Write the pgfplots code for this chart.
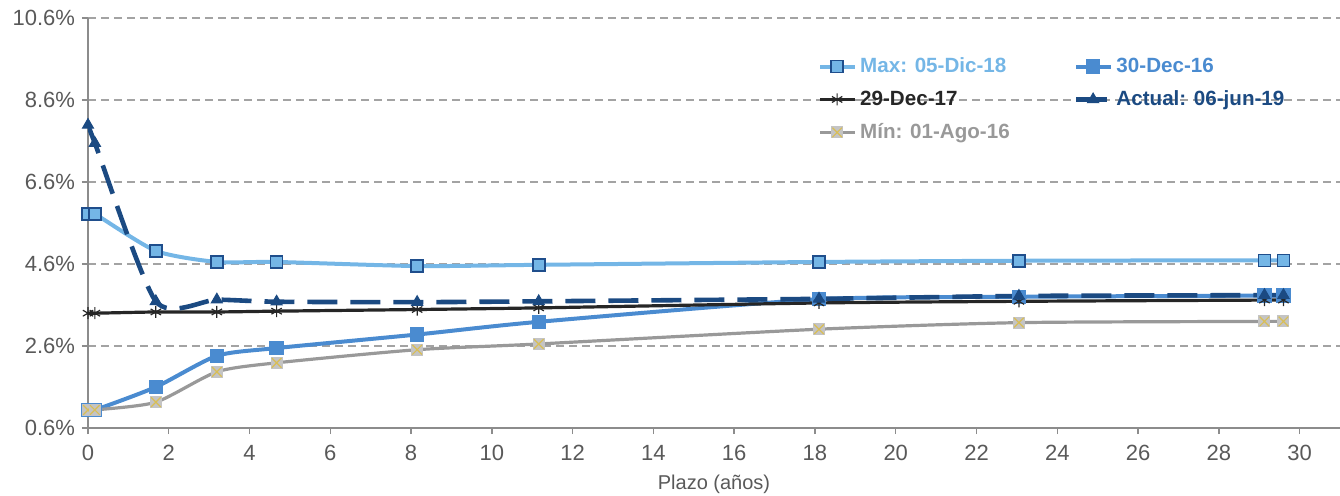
\documentclass[border=0pt]{standalone}
\usepackage{pgfplots}
\pgfplotsset{compat=1.18}
\usepackage{fontspec}
\setmainfont{Liberation Sans}
\definecolor{cmax}{HTML}{74B6E6}
\definecolor{cmaxd}{HTML}{1F4E8C}
\definecolor{cd16}{HTML}{4A8BD0}
\definecolor{cd17}{HTML}{262626}
\definecolor{cact}{HTML}{1B4A82}
\definecolor{cmin}{HTML}{999999}
\definecolor{cminfill}{HTML}{C4C4C4}
\definecolor{cminx}{HTML}{D9BE55}
\definecolor{tickc}{HTML}{595959}
\definecolor{axc}{HTML}{8C8C8C}
\pgfdeclareplotmark{sqx}{%
  \pgfpathrectangle{\pgfqpoint{-\pgfplotmarksize}{-\pgfplotmarksize}}{\pgfqpoint{2\pgfplotmarksize}{2\pgfplotmarksize}}%
  \pgfsetfillcolor{cminfill}\pgfusepath{fill}%
  \pgfsetstrokecolor{cminx}\pgfsetlinewidth{0.6pt}%
  \pgfpathmoveto{\pgfqpoint{-0.8\pgfplotmarksize}{-0.8\pgfplotmarksize}}%
  \pgfpathlineto{\pgfqpoint{0.8\pgfplotmarksize}{0.8\pgfplotmarksize}}%
  \pgfpathmoveto{\pgfqpoint{-0.8\pgfplotmarksize}{0.8\pgfplotmarksize}}%
  \pgfpathlineto{\pgfqpoint{0.8\pgfplotmarksize}{-0.8\pgfplotmarksize}}%
  \pgfusepath{stroke}}
\pgfplotstableread{
x     mx    d16   d17   act   mn
0     5.82  1.04  3.40  7.99  1.04
0.17  5.82  1.04  3.40  7.55  1.04
1.68  4.92  1.60  3.43  3.69  1.23
3.19  4.65  2.36  3.43  3.73  1.97
4.67  4.65  2.55  3.45  3.68  2.19
8.15  4.55  2.88  3.49  3.67  2.51
11.16 4.58  3.19  3.53  3.69  2.65
18.1  4.65  3.74  3.65  3.75  3.01
23.05 4.68  3.80  3.69  3.82  3.17
29.13 4.69  3.83  3.72  3.84  3.20
29.6  4.69  3.83  3.72  3.84  3.20
}\data
\begin{document}
\begin{tikzpicture}
\begin{axis}[
  scale only axis, width=626pt, height=205pt,
  xmin=0, xmax=31, ymin=0.6, ymax=10.6,
  axis x line*=bottom, axis y line*=left,
  axis line style={axc, line width=0.7pt},
  xtick={0,2,...,30}, ytick={0.6,2.6,4.6,6.6,8.6,10.6},
  tick align=outside, major tick length=3pt,
  tick style={axc, line width=0.7pt},
  yticklabel={\pgfmathprintnumber[fixed,precision=1,fixed zerofill]{\tick}\%},
  /pgf/number format/assume math mode=true,
  ticklabel style={font=\fontsize{11}{13}\selectfont, text=tickc},
  xticklabel style={yshift=-2pt},
  ymajorgrids, grid style={axc!80, line width=0.6pt, dash pattern=on 4pt off 2.5pt},
  xlabel={Plazo (años)}, xlabel style={font=\fontsize{10}{12}\selectfont, text=tickc, yshift=-0.5pt},
  legend columns=2,
  legend style={draw=none, fill=none, at={(rel axis cs:0.578,0.924)}, anchor=north west,
    font=\fontsize{10.3}{12}\selectfont\bfseries, row sep=3.5pt,
    /tikz/every even column/.append style={column sep=30pt}},
  legend cell align=left,
  clip=true,
]
\addplot[cmax, line width=2pt, smooth, tension=0.4, mark=square*, mark size=3pt,
  mark options={fill=cmax, draw=cmaxd, line width=0.8pt}] table[x=x,y=mx]{\data};
\addlegendentry{\textcolor{cmax}{Max: 05-Dic-18}}
\addplot[cd16, line width=2pt, smooth, tension=0.4, mark=square*, mark size=2.6pt,
  mark options={fill=cd16, draw=cd16}] table[x=x,y=d16]{\data};
\addlegendentry{\textcolor{cd16}{30-Dec-16}}
\addplot[cd17, line width=1.6pt, smooth, tension=0.4, mark=asterisk, mark size=3pt,
  mark options={line width=0.6pt}] table[x=x,y=d17]{\data};
\addlegendentry{\textcolor{cd17}{29-Dec-17}}
\addplot[cact, line width=2.3pt, smooth, tension=0.4, dash pattern=on 15pt off 6.5pt, mark=triangle*, mark size=3.2pt,
  mark options={solid, fill=cact, draw=cact, line width=0.5pt}] table[x=x,y=act]{\data};
\addlegendentry{\textcolor{cact}{Actual: 06-jun-19}}
\addplot[cmin, line width=1.6pt, smooth, tension=0.4, mark=sqx, mark size=3pt] table[x=x,y=mn]{\data};
\addlegendentry{\textcolor{cmin}{Mín: 01-Ago-16}}
\end{axis}
\pgfresetboundingbox
\path[use as bounding box] (-44pt,-33.5pt) rectangle (626pt,214pt);
\end{tikzpicture}
\end{document}
